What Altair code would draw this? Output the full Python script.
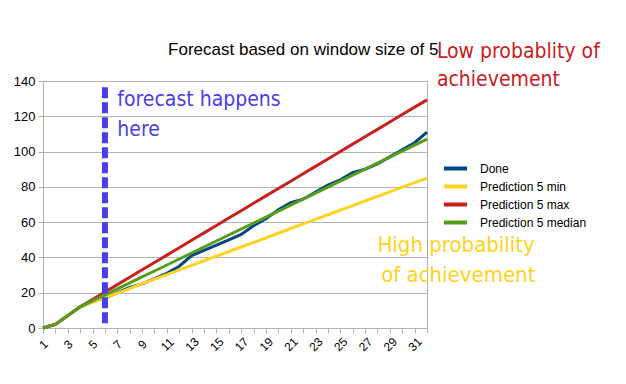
import altair as alt
import pandas as pd

categories = list(range(1, 33))
done = [0, 2, 7, 12, 15, 17, 20, 23, 25, 28, 31, 35, 41, 44, 47, 50,
        53, 58, 62, 67, 71, 73, 77, 81, 84, 88, 90, 93, 97, 101, 105, 111]
pred_min = [0, 2, 7, 12, 14.6, 17.2, 19.8, 22.4, 25.1, 27.7, 30.3, 32.9, 35.5, 38.1, 40.7, 43.3,
            45.9, 48.5, 51.1, 53.7, 56.4, 59.0, 61.6, 64.2, 66.8, 69.4, 72.0, 74.6, 77.2, 79.8, 82.4, 85.0]
pred_max = [0, 2, 7, 12, 16.2, 20.4, 24.6, 28.8, 33.0, 37.1, 41.3, 45.5, 49.7, 53.9, 58.1, 62.3,
            66.5, 70.7, 74.9, 79.1, 83.2, 87.4, 91.6, 95.8, 100.0, 104.2, 108.4, 112.6, 116.8, 121.0, 125.2, 129.3]
pred_median = [0, 2, 7, 12, 15.4, 18.8, 22.2, 25.6, 29.0, 32.3, 35.7, 39.1, 42.5, 45.9, 49.3, 52.7,
               56.1, 59.5, 62.9, 66.3, 69.6, 73.0, 76.4, 79.8, 83.2, 86.6, 90.0, 93.4, 96.8, 100.2, 103.6, 107.0]

series_names = ["Done", "Prediction 5 min", "Prediction 5 max", "Prediction 5 median"]
series_colors = ["#004586", "#ffd320", "#c9211e", "#579d1c"]
y_ticks = [0, 20, 40, 60, 80, 100, 120, 140]

title_text = "Forecast based on window size of 5"

rows = []
for k, (name, vals) in enumerate(zip(series_names, [done, pred_min, pred_max, pred_median])):
    for c, v in zip(categories, vals):
        rows.append({"x": c, "y": v, "series": name, "order": k})
df = pd.DataFrame(rows)

forecast_at = 6
forecast_rule = pd.DataFrame({"x": [forecast_at], "y": [2.7], "y2": [138]})

notes = pd.DataFrame({
    "x": [7.0, 7.0, 32.8, 32.8, 28.0, 28.3],
    "y": [129, 112, 156.5, 140.5, 47, 30],
    "text": ["forecast happens", "here", "Low probablity of", "achievement",
             "High probability", "of achievement"],
    "color": ["#4a3ee6", "#4a3ee6", "#c9211e", "#c9211e", "#ffd320", "#ffd320"],
    "size": [21, 21, 21, 21, 22, 22],
})
title_df = pd.DataFrame({"x": [11.1], "y": [157.6], "text": [title_text]})

xscale = alt.Scale(domain=[1, 32], nice=False, zero=False)
yscale = alt.Scale(domain=[0, 140], nice=False)

x_axis = alt.Axis(title=None, values=categories, labelAngle=315, grid=False,
                  labelExpr="datum.value % 2 == 1 ? datum.label : ''",
                  labelAlign="center", labelBaseline="middle",
                  labelFontSize=12, labelFont="Liberation Sans", labelColor="#000000",
                  domainColor="#b3b3b3", tickColor="#b3b3b3", tickSize=5,
                  labelPadding=11, labelOverlap=False, labelFlush=False)
y_axis = alt.Axis(title=None, values=y_ticks, labelOverlap=False,
                  gridColor="#b3b3b3", domainColor="#b3b3b3", tickColor="#b3b3b3",
                  tickSize=5, labelFontSize=13, labelFont="Liberation Sans",
                  labelColor="#000000", labelPadding=3)

X = lambda f: alt.X(f, scale=xscale, axis=x_axis)
Y = lambda f: alt.Y(f, scale=yscale, axis=y_axis)

lines = alt.Chart(df).mark_line(strokeWidth=3, clip=False).encode(
    x=X("x:Q"),
    y=Y("y:Q"),
    color=alt.Color("series:N", sort=series_names,
                    scale=alt.Scale(domain=series_names, range=series_colors),
                    legend=alt.Legend(title=None, orient="none", legendX=403, legendY=78,
                                      symbolType="M-1.6,0H1.6", symbolStrokeWidth=4, symbolSize=210,
                                      labelFontSize=12, labelFont="Liberation Sans",
                                      labelColor="#000000", rowPadding=0, labelOffset=15)),
    order="order:Q",
    detail="series:N",
)

rule = alt.Chart(forecast_rule).mark_rule(strokeWidth=6, strokeDash=[11, 4], color="#4a3ee6").encode(
    x=X("x:Q"), y=Y("y:Q"), y2="y2:Q")

texts = alt.Chart(notes).mark_text(align="left", baseline="middle",
                                   font="Liberation Sans Narrow, DejaVu Sans Condensed, sans-serif",
                                   clip=False).encode(
    x=X("x:Q"), y=Y("y:Q"),
    text="text:N", color=alt.Color("color:N", scale=None),
    size=alt.Size("size:Q", scale=None))

title = alt.Chart(title_df).mark_text(align="left", baseline="middle", fontSize=17,
                                      font="Liberation Sans", color="#000000", clip=False).encode(
    x=X("x:Q"), y=Y("y:Q"), text="text:N")

chart = alt.layer(lines, rule, texts, title).properties(
    width=384, height=247,
    autosize=alt.AutoSizeParams(type="none"),
    padding={"left": 35, "top": 73, "right": 191, "bottom": 48},
).configure_view(stroke="#b3b3b3").configure_axis(labelOverlap=False)

chart.save("out.html", embed_options={"renderer": "svg", "actions": False})
